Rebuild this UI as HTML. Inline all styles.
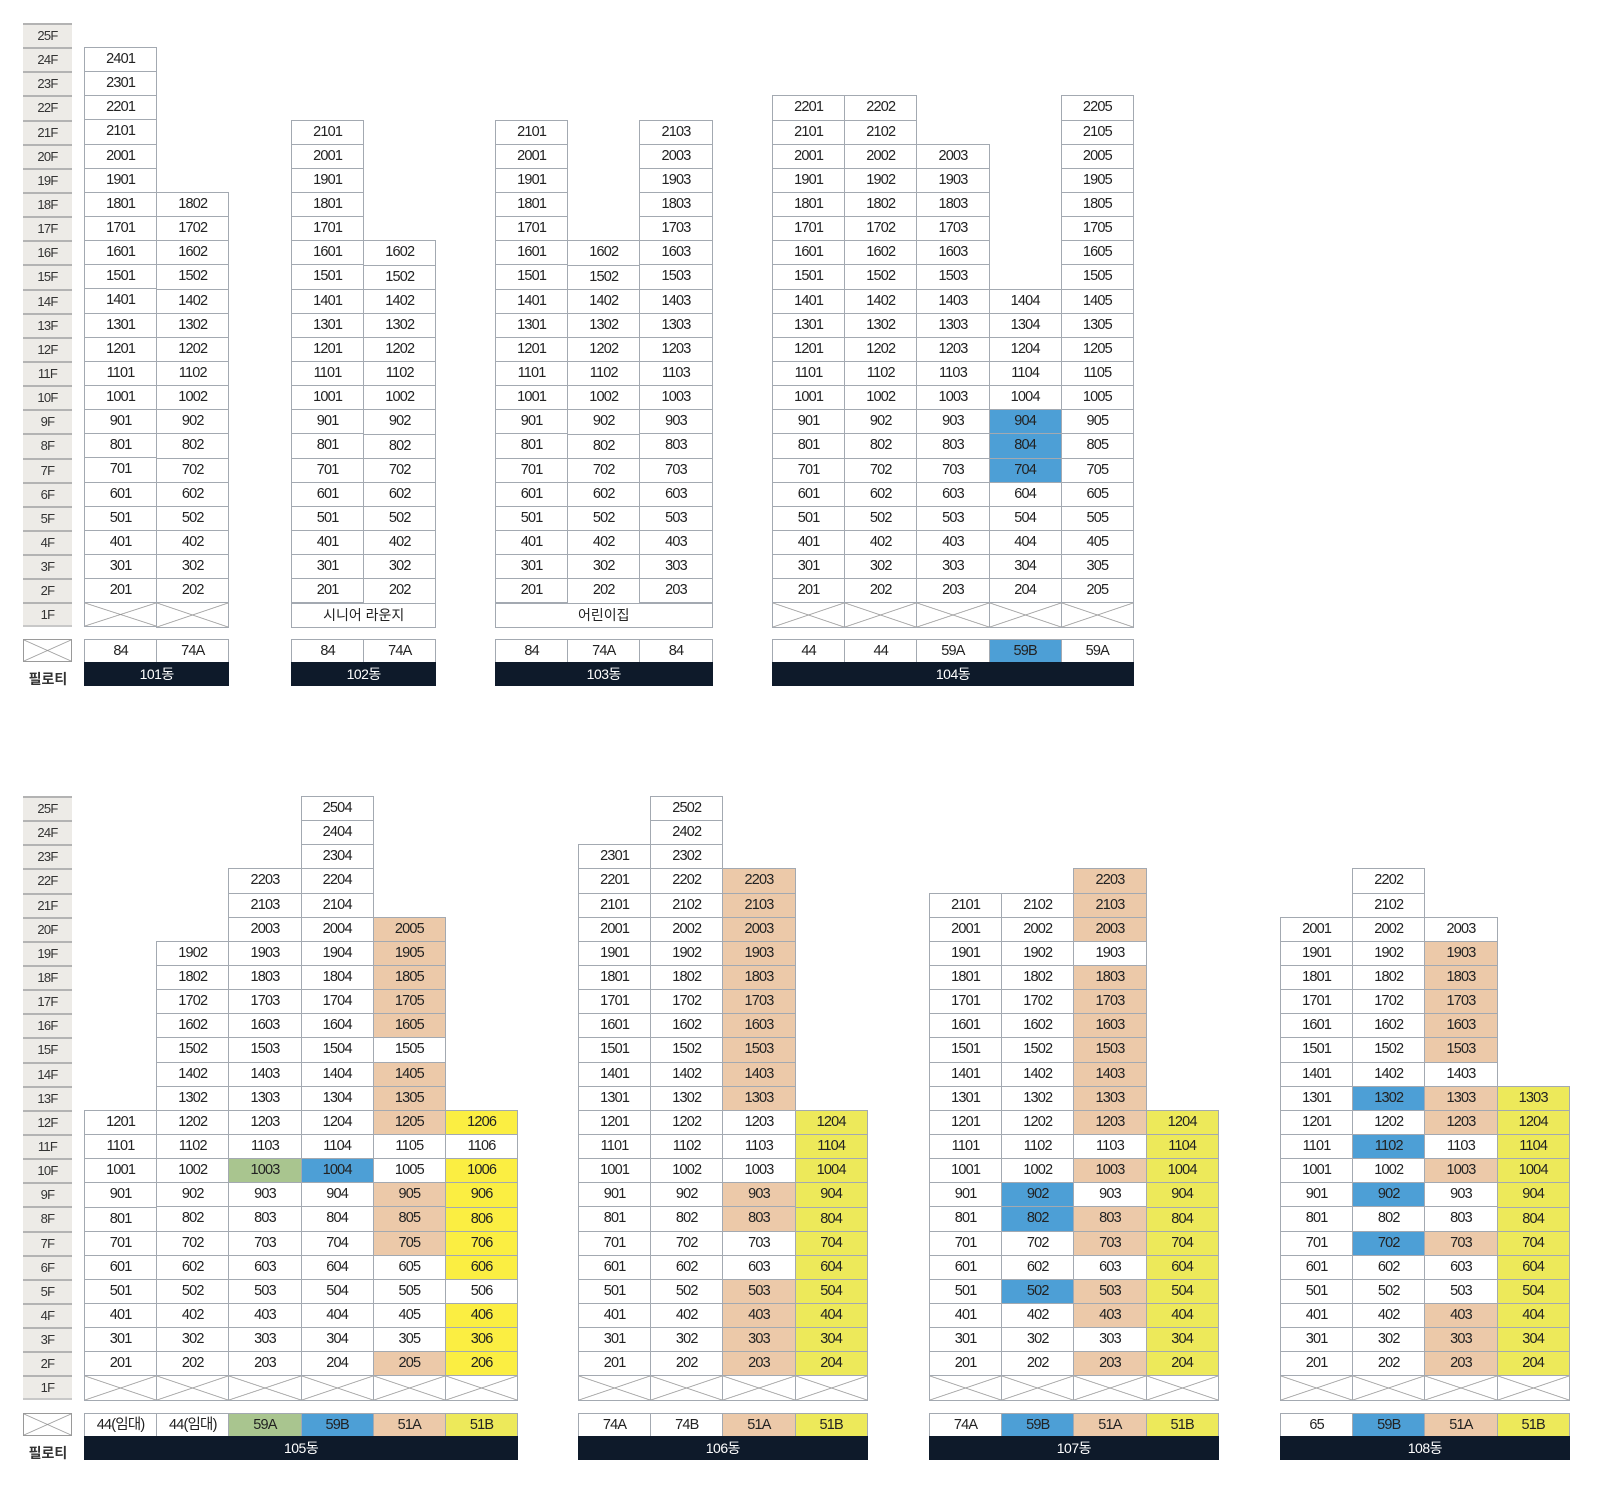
<!DOCTYPE html>
<html><head><meta charset="utf-8">
<style>
*{margin:0;padding:0}
body{width:1602px;height:1496px;background:#fff;position:relative;overflow:hidden;font-family:"Liberation Sans","Noto Sans CJK KR",sans-serif}
.c{position:absolute;display:flex;flex-direction:column;width:73.2px}
.c i,.s i{font-style:normal;display:block;height:25.15px;margin-top:-1px;border:1px solid #a3a9b1;box-sizing:border-box;line-height:23px;text-align:center;font-size:14.5px;color:#222;letter-spacing:-0.8px;background:#fff}
.c i.p,.s i.p{background:#ecc9a9}
.c i.y,.s i.y{background:#ede95a}
.c i.z{background:#fbee42}
.c i.b,.s i.b{background:#4d9fd6}
.c i.g,.s i.g{background:#a9c58f}
.c i.x,.px{background:linear-gradient(to top right,transparent calc(50% - .7px),#8a8a8a 50%,transparent calc(50% + .7px)),linear-gradient(to bottom right,transparent calc(50% - .7px),#8a8a8a 50%,transparent calc(50% + .7px)),#fff}
.s{position:absolute;display:flex}
.s i{width:73.2px;margin-left:-1px;margin-top:0;height:24px}
.s i:first-child{margin-left:0}
.bar{position:absolute;height:24px;background:#0e1a2a;color:#fff;text-align:center;line-height:24px;font-size:14px;letter-spacing:-0.5px}
.m{position:absolute;height:25.15px;border:1px solid #a3a9b1;box-sizing:border-box;line-height:23px;text-align:center;font-size:14px;color:#222;background:#fff}
.fl{position:absolute;left:23px;width:49px}
.fl i{font-style:normal;display:block;height:24.15px;box-sizing:border-box;border-top:2px solid #b3b3b3;background:#edebe7;text-align:center;line-height:22px;font-size:13px;color:#333;letter-spacing:-0.7px}
.fl i:last-child{border-bottom:2px solid #c8c8c8}
.px{position:absolute;left:23px;width:49px;height:23px;border:1px solid #9a9a9a;box-sizing:border-box}
.pt{position:absolute;left:18px;width:60px;text-align:center;font-size:14px;color:#333;font-weight:bold}
</style></head><body>

<div class="fl" style="top:23px"><i>25F</i><i>24F</i><i>23F</i><i>22F</i><i>21F</i><i>20F</i><i>19F</i><i>18F</i><i>17F</i><i>16F</i><i>15F</i><i>14F</i><i>13F</i><i>12F</i><i>11F</i><i>10F</i><i>9F</i><i>8F</i><i>7F</i><i>6F</i><i>5F</i><i>4F</i><i>3F</i><i>2F</i><i>1F</i></div>
<div class="px" style="top:639px"></div><div class="pt" style="top:669px">필로티</div>

<div class="fl" style="top:796px"><i>25F</i><i>24F</i><i>23F</i><i>22F</i><i>21F</i><i>20F</i><i>19F</i><i>18F</i><i>17F</i><i>16F</i><i>15F</i><i>14F</i><i>13F</i><i>12F</i><i>11F</i><i>10F</i><i>9F</i><i>8F</i><i>7F</i><i>6F</i><i>5F</i><i>4F</i><i>3F</i><i>2F</i><i>1F</i></div>
<div class="px" style="top:1413px"></div><div class="pt" style="top:1443px">필로티</div>

<!-- 101 -->
<div class="c" style="left:84px;top:48px"><i>2401</i><i>2301</i><i>2201</i><i>2101</i><i>2001</i><i>1901</i><i>1801</i><i>1701</i><i>1601</i><i>1501</i><i>1401</i><i>1301</i><i>1201</i><i>1101</i><i>1001</i><i>901</i><i>801</i><i>701</i><i>601</i><i>501</i><i>401</i><i>301</i><i>201</i><i class="x"></i></div>
<div class="c" style="left:156.2px;top:193px"><i>1802</i><i>1702</i><i>1602</i><i>1502</i><i>1402</i><i>1302</i><i>1202</i><i>1102</i><i>1002</i><i>902</i><i>802</i><i>702</i><i>602</i><i>502</i><i>402</i><i>302</i><i>202</i><i class="x"></i></div>
<div class="s" style="left:84px;top:639px"><i>84</i><i>74A</i></div>
<div class="bar" style="left:84px;top:662px;width:145.4px">101동</div>

<!-- 102 -->
<div class="c" style="left:291px;top:120.6px"><i>2101</i><i>2001</i><i>1901</i><i>1801</i><i>1701</i><i>1601</i><i>1501</i><i>1401</i><i>1301</i><i>1201</i><i>1101</i><i>1001</i><i>901</i><i>801</i><i>701</i><i>601</i><i>501</i><i>401</i><i>301</i><i>201</i></div>
<div class="c" style="left:363.2px;top:241.4px"><i>1602</i><i>1502</i><i>1402</i><i>1302</i><i>1202</i><i>1102</i><i>1002</i><i>902</i><i>802</i><i>702</i><i>602</i><i>502</i><i>402</i><i>302</i><i>202</i></div>
<div class="m" style="left:291px;top:602.6px;width:145.4px">시니어 라운지</div>
<div class="s" style="left:291px;top:639px"><i>84</i><i>74A</i></div>
<div class="bar" style="left:291px;top:662px;width:145.4px">102동</div>

<!-- 103 -->
<div class="c" style="left:495px;top:120.6px"><i>2101</i><i>2001</i><i>1901</i><i>1801</i><i>1701</i><i>1601</i><i>1501</i><i>1401</i><i>1301</i><i>1201</i><i>1101</i><i>1001</i><i>901</i><i>801</i><i>701</i><i>601</i><i>501</i><i>401</i><i>301</i><i>201</i></div>
<div class="c" style="left:567.2px;top:241.4px"><i>1602</i><i>1502</i><i>1402</i><i>1302</i><i>1202</i><i>1102</i><i>1002</i><i>902</i><i>802</i><i>702</i><i>602</i><i>502</i><i>402</i><i>302</i><i>202</i></div>
<div class="c" style="left:639.4px;top:120.6px"><i>2103</i><i>2003</i><i>1903</i><i>1803</i><i>1703</i><i>1603</i><i>1503</i><i>1403</i><i>1303</i><i>1203</i><i>1103</i><i>1003</i><i>903</i><i>803</i><i>703</i><i>603</i><i>503</i><i>403</i><i>303</i><i>203</i></div>
<div class="m" style="left:495px;top:602.6px;width:217.6px">어린이집</div>
<div class="s" style="left:495px;top:639px"><i>84</i><i>74A</i><i>84</i></div>
<div class="bar" style="left:495px;top:662px;width:217.6px">103동</div>

<!-- 104 -->
<div class="c" style="left:772px;top:96.45px"><i>2201</i><i>2101</i><i>2001</i><i>1901</i><i>1801</i><i>1701</i><i>1601</i><i>1501</i><i>1401</i><i>1301</i><i>1201</i><i>1101</i><i>1001</i><i>901</i><i>801</i><i>701</i><i>601</i><i>501</i><i>401</i><i>301</i><i>201</i><i class="x"></i></div>
<div class="c" style="left:844.2px;top:96.45px"><i>2202</i><i>2102</i><i>2002</i><i>1902</i><i>1802</i><i>1702</i><i>1602</i><i>1502</i><i>1402</i><i>1302</i><i>1202</i><i>1102</i><i>1002</i><i>902</i><i>802</i><i>702</i><i>602</i><i>502</i><i>402</i><i>302</i><i>202</i><i class="x"></i></div>
<div class="c" style="left:916.4px;top:144.75px"><i>2003</i><i>1903</i><i>1803</i><i>1703</i><i>1603</i><i>1503</i><i>1403</i><i>1303</i><i>1203</i><i>1103</i><i>1003</i><i>903</i><i>803</i><i>703</i><i>603</i><i>503</i><i>403</i><i>303</i><i>203</i><i class="x"></i></div>
<div class="c" style="left:988.6px;top:289.65px"><i>1404</i><i>1304</i><i>1204</i><i>1104</i><i>1004</i><i class="b">904</i><i class="b">804</i><i class="b">704</i><i>604</i><i>504</i><i>404</i><i>304</i><i>204</i><i class="x"></i></div>
<div class="c" style="left:1060.8px;top:96.45px"><i>2205</i><i>2105</i><i>2005</i><i>1905</i><i>1805</i><i>1705</i><i>1605</i><i>1505</i><i>1405</i><i>1305</i><i>1205</i><i>1105</i><i>1005</i><i>905</i><i>805</i><i>705</i><i>605</i><i>505</i><i>405</i><i>305</i><i>205</i><i class="x"></i></div>
<div class="s" style="left:772px;top:639px"><i>44</i><i>44</i><i>59A</i><i class="b">59B</i><i>59A</i></div>
<div class="bar" style="left:772px;top:662px;width:362px">104동</div>

<!-- 105 -->
<div class="c" style="left:84px;top:1110.95px"><i>1201</i><i>1101</i><i>1001</i><i>901</i><i>801</i><i>701</i><i>601</i><i>501</i><i>401</i><i>301</i><i>201</i><i class="x"></i></div>
<div class="c" style="left:156.2px;top:941.9px"><i>1902</i><i>1802</i><i>1702</i><i>1602</i><i>1502</i><i>1402</i><i>1302</i><i>1202</i><i>1102</i><i>1002</i><i>902</i><i>802</i><i>702</i><i>602</i><i>502</i><i>402</i><i>302</i><i>202</i><i class="x"></i></div>
<div class="c" style="left:228.4px;top:869.45px"><i>2203</i><i>2103</i><i>2003</i><i>1903</i><i>1803</i><i>1703</i><i>1603</i><i>1503</i><i>1403</i><i>1303</i><i>1203</i><i>1103</i><i class="g">1003</i><i>903</i><i>803</i><i>703</i><i>603</i><i>503</i><i>403</i><i>303</i><i>203</i><i class="x"></i></div>
<div class="c" style="left:300.6px;top:797px"><i>2504</i><i>2404</i><i>2304</i><i>2204</i><i>2104</i><i>2004</i><i>1904</i><i>1804</i><i>1704</i><i>1604</i><i>1504</i><i>1404</i><i>1304</i><i>1204</i><i>1104</i><i class="b">1004</i><i>904</i><i>804</i><i>704</i><i>604</i><i>504</i><i>404</i><i>304</i><i>204</i><i class="x"></i></div>
<div class="c" style="left:372.8px;top:917.75px"><i class="p">2005</i><i class="p">1905</i><i class="p">1805</i><i class="p">1705</i><i class="p">1605</i><i>1505</i><i class="p">1405</i><i class="p">1305</i><i class="p">1205</i><i>1105</i><i>1005</i><i class="p">905</i><i class="p">805</i><i class="p">705</i><i>605</i><i>505</i><i>405</i><i>305</i><i class="p">205</i><i class="x"></i></div>
<div class="c" style="left:445px;top:1110.95px"><i class="z">1206</i><i>1106</i><i class="z">1006</i><i class="z">906</i><i class="z">806</i><i class="z">706</i><i class="z">606</i><i>506</i><i class="z">406</i><i class="z">306</i><i class="z">206</i><i class="x"></i></div>
<div class="s" style="left:84px;top:1413px"><i>44(임대)</i><i>44(임대)</i><i class="g">59A</i><i class="b">59B</i><i class="p">51A</i><i class="y">51B</i></div>
<div class="bar" style="left:84px;top:1436px;width:434.2px">105동</div>

<!-- 106 -->
<div class="c" style="left:578px;top:845.3px"><i>2301</i><i>2201</i><i>2101</i><i>2001</i><i>1901</i><i>1801</i><i>1701</i><i>1601</i><i>1501</i><i>1401</i><i>1301</i><i>1201</i><i>1101</i><i>1001</i><i>901</i><i>801</i><i>701</i><i>601</i><i>501</i><i>401</i><i>301</i><i>201</i><i class="x"></i></div>
<div class="c" style="left:650.2px;top:797px"><i>2502</i><i>2402</i><i>2302</i><i>2202</i><i>2102</i><i>2002</i><i>1902</i><i>1802</i><i>1702</i><i>1602</i><i>1502</i><i>1402</i><i>1302</i><i>1202</i><i>1102</i><i>1002</i><i>902</i><i>802</i><i>702</i><i>602</i><i>502</i><i>402</i><i>302</i><i>202</i><i class="x"></i></div>
<div class="c" style="left:722.4px;top:869.45px"><i class="p">2203</i><i class="p">2103</i><i class="p">2003</i><i class="p">1903</i><i class="p">1803</i><i class="p">1703</i><i class="p">1603</i><i class="p">1503</i><i class="p">1403</i><i class="p">1303</i><i>1203</i><i>1103</i><i>1003</i><i class="p">903</i><i class="p">803</i><i>703</i><i>603</i><i class="p">503</i><i class="p">403</i><i class="p">303</i><i class="p">203</i><i class="x"></i></div>
<div class="c" style="left:794.6px;top:1110.95px"><i class="y">1204</i><i class="y">1104</i><i class="y">1004</i><i class="y">904</i><i class="y">804</i><i class="y">704</i><i class="y">604</i><i class="y">504</i><i class="y">404</i><i class="y">304</i><i class="y">204</i><i class="x"></i></div>
<div class="s" style="left:578px;top:1413px"><i>74A</i><i>74B</i><i class="p">51A</i><i class="y">51B</i></div>
<div class="bar" style="left:578px;top:1436px;width:289.8px">106동</div>

<!-- 107 -->
<div class="c" style="left:929px;top:893.6px"><i>2101</i><i>2001</i><i>1901</i><i>1801</i><i>1701</i><i>1601</i><i>1501</i><i>1401</i><i>1301</i><i>1201</i><i>1101</i><i>1001</i><i>901</i><i>801</i><i>701</i><i>601</i><i>501</i><i>401</i><i>301</i><i>201</i><i class="x"></i></div>
<div class="c" style="left:1001.2px;top:893.6px"><i>2102</i><i>2002</i><i>1902</i><i>1802</i><i>1702</i><i>1602</i><i>1502</i><i>1402</i><i>1302</i><i>1202</i><i>1102</i><i>1002</i><i class="b">902</i><i class="b">802</i><i>702</i><i>602</i><i class="b">502</i><i>402</i><i>302</i><i>202</i><i class="x"></i></div>
<div class="c" style="left:1073.4px;top:869.45px"><i class="p">2203</i><i class="p">2103</i><i class="p">2003</i><i>1903</i><i class="p">1803</i><i class="p">1703</i><i class="p">1603</i><i class="p">1503</i><i class="p">1403</i><i class="p">1303</i><i class="p">1203</i><i>1103</i><i class="p">1003</i><i>903</i><i class="p">803</i><i class="p">703</i><i>603</i><i class="p">503</i><i class="p">403</i><i>303</i><i class="p">203</i><i class="x"></i></div>
<div class="c" style="left:1145.6px;top:1110.95px"><i class="y">1204</i><i class="y">1104</i><i class="y">1004</i><i class="y">904</i><i class="y">804</i><i class="y">704</i><i class="y">604</i><i class="y">504</i><i class="y">404</i><i class="y">304</i><i class="y">204</i><i class="x"></i></div>
<div class="s" style="left:929px;top:1413px"><i>74A</i><i class="b">59B</i><i class="p">51A</i><i class="y">51B</i></div>
<div class="bar" style="left:929px;top:1436px;width:289.8px">107동</div>

<!-- 108 -->
<div class="c" style="left:1280px;top:917.75px"><i>2001</i><i>1901</i><i>1801</i><i>1701</i><i>1601</i><i>1501</i><i>1401</i><i>1301</i><i>1201</i><i>1101</i><i>1001</i><i>901</i><i>801</i><i>701</i><i>601</i><i>501</i><i>401</i><i>301</i><i>201</i><i class="x"></i></div>
<div class="c" style="left:1352.2px;top:869.45px"><i>2202</i><i>2102</i><i>2002</i><i>1902</i><i>1802</i><i>1702</i><i>1602</i><i>1502</i><i>1402</i><i class="b">1302</i><i>1202</i><i class="b">1102</i><i>1002</i><i class="b">902</i><i>802</i><i class="b">702</i><i>602</i><i>502</i><i>402</i><i>302</i><i>202</i><i class="x"></i></div>
<div class="c" style="left:1424.4px;top:917.75px"><i>2003</i><i class="p">1903</i><i class="p">1803</i><i class="p">1703</i><i class="p">1603</i><i class="p">1503</i><i>1403</i><i class="p">1303</i><i class="p">1203</i><i>1103</i><i class="p">1003</i><i>903</i><i>803</i><i class="p">703</i><i>603</i><i>503</i><i class="p">403</i><i class="p">303</i><i class="p">203</i><i class="x"></i></div>
<div class="c" style="left:1496.6px;top:1086.8px"><i class="y">1303</i><i class="y">1204</i><i class="y">1104</i><i class="y">1004</i><i class="y">904</i><i class="y">804</i><i class="y">704</i><i class="y">604</i><i class="y">504</i><i class="y">404</i><i class="y">304</i><i class="y">204</i><i class="x"></i></div>
<div class="s" style="left:1280px;top:1413px"><i>65</i><i class="b">59B</i><i class="p">51A</i><i class="y">51B</i></div>
<div class="bar" style="left:1280px;top:1436px;width:289.8px">108동</div>

</body></html>
